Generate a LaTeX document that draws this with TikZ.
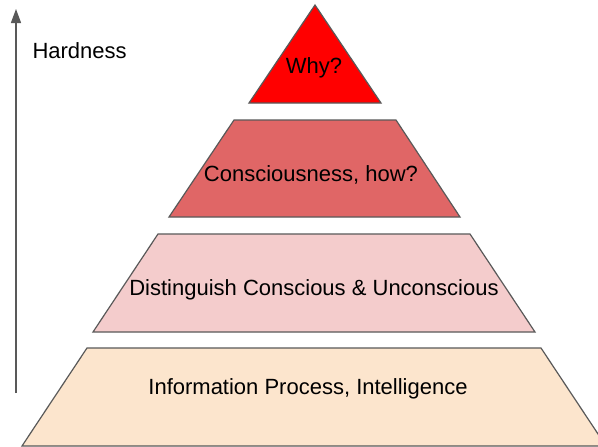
\documentclass[tikz,border=0pt]{standalone}
\usepackage{fontspec}
\setmainfont{Liberation Sans}
\usetikzlibrary{arrows.meta}

\definecolor{topred}{HTML}{FF0000}
\definecolor{midred}{HTML}{E06666}
\definecolor{lightred}{HTML}{F4CCCC}
\definecolor{peach}{HTML}{FCE5CD}
\definecolor{edgegray}{HTML}{595959}

\begin{document}
\begin{tikzpicture}[x=1pt, y=-1pt,
				layer/.style={draw=edgegray, line width=1.2pt, line join=miter},
				tiertext/.style={font=\fontsize{22}{26}\selectfont, text=black},
				>={Triangle[length=14pt, width=10pt]}]
				\useasboundingbox (0,0) rectangle (598,447);
				\clip (0,0) rectangle (598,447);
				\fill[white] (0,0) rectangle (598,447);
				% pyramid
				\filldraw[layer, fill=topred] (315,5) -- (381,103) -- (249,103) -- cycle;
				\filldraw[layer, fill=midred] (234,120) -- (396,120) -- (460,217) -- (169,217) -- cycle;
				\filldraw[layer, fill=lightred] (158,234) -- (470,234) -- (535,332) -- (93,332) -- cycle;
				\filldraw[layer, fill=peach] (87,348) -- (541,348) -- (606,446) -- (22,446) -- cycle;
				\node at (314,68) (why) [tiertext] {Why?};
				\node at (311,175) (how) [tiertext] {Consciousness, how?};
				\node at (314,290) (dist) [tiertext] {Distinguish Conscious \& Unconscious};
				\node at (308,389) (info) [tiertext] {Information Process, Intelligence};
				% hardness axis
				\coordinate (axisbase) at (16,393);
				\coordinate (axistop) at (16,9);
				\draw[->, edgegray, line width=1.3pt] (axisbase) -- (axistop);
				\node at (29,51) (hard) [tiertext, anchor=west] {Hardness};
			\end{tikzpicture}
\end{document}
